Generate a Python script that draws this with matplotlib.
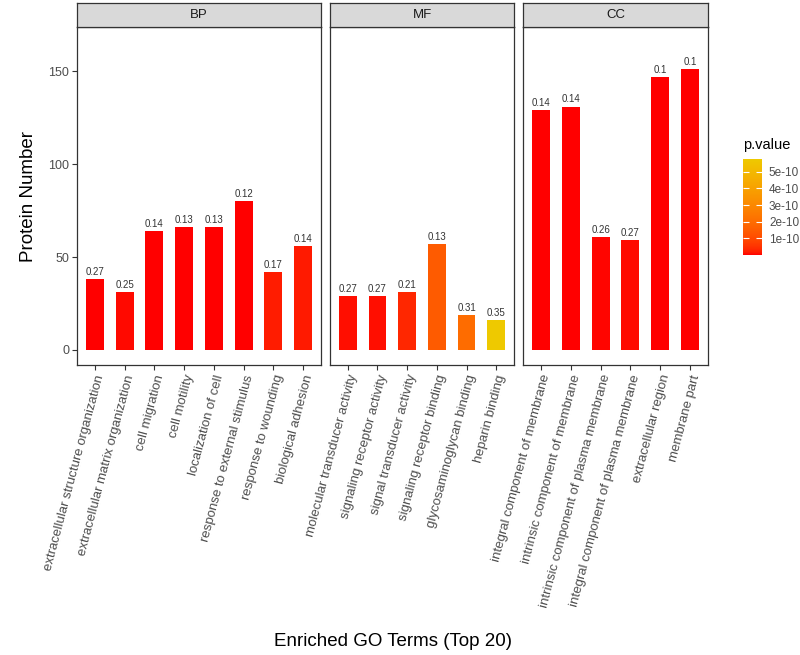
import numpy as np
import matplotlib
matplotlib.use("Agg")
import matplotlib.pyplot as plt
from matplotlib.colors import ListedColormap, Normalize
from matplotlib.cm import ScalarMappable

plt.rcParams['font.family'] = ['Liberation Sans', 'DejaVu Sans']

# ── data ────────────────────────────────────────────────────────────────────
groups = ["BP", "MF", "CC"]

bp_terms = ["extracellular structure organization", "extracellular matrix organization",
            "cell migration", "cell motility", "localization of cell",
            "response to external stimulus", "response to wounding", "biological adhesion"]
bp_counts = [38, 31, 64, 66, 66, 80, 42, 56]
bp_ratio = ["0.27", "0.25", "0.14", "0.13", "0.13", "0.12", "0.17", "0.14"]
bp_pval = [3e-13, 5e-12, 2e-15, 1e-15, 1e-15, 1e-17, 2.0e-11, 1.6e-11]

mf_terms = ["molecular transducer activity", "signaling receptor activity",
            "signal transducer activity", "signaling receptor binding",
            "glycosaminoglycan binding", "heparin binding"]
mf_counts = [29, 29, 31, 57, 19, 16]
mf_ratio = ["0.27", "0.27", "0.21", "0.13", "0.31", "0.35"]
mf_pval = [8e-12, 8e-12, 3.2e-11, 1.45e-10, 2.0e-10, 5.76e-10]

cc_terms = ["integral component of membrane", "intrinsic component of membrane",
            "intrinsic component of plasma membrane", "integral component of plasma membrane",
            "extracellular region", "membrane part"]
cc_counts = [129, 131, 61, 59, 147, 151]
cc_ratio = ["0.14", "0.14", "0.26", "0.27", "0.1", "0.1"]
cc_pval = [1e-14, 1e-14, 3e-12, 6e-12, 1e-20, 1e-20]

cbar_ticks = [1e-10, 2e-10, 3e-10, 4e-10, 5e-10]
cbar_labels = ["1e-10", "2e-10", "3e-10", "4e-10", "5e-10"]

panels = [(bp_terms, bp_counts, bp_ratio, bp_pval),
          (mf_terms, mf_counts, mf_ratio, mf_pval),
          (cc_terms, cc_counts, cc_ratio, cc_pval)]


# ── ggplot-like Lab gradient red -> gold2 ───────────────────────────────────
WHITE = np.array([0.95047, 1.0, 1.08883])
M = np.array([[0.4124, 0.3576, 0.1805], [0.2126, 0.7152, 0.0722], [0.0193, 0.1192, 0.9505]])


def to_lab(rgb):
    c = np.asarray(rgb, float)
    lin = np.where(c <= 0.04045, c / 12.92, ((c + 0.055) / 1.055) ** 2.4)
    t = (M @ lin) / WHITE
    f = np.where(t > 0.008856, np.cbrt(t), 7.787 * t + 16 / 116)
    return np.array([116 * f[1] - 16, 500 * (f[0] - f[1]), 200 * (f[1] - f[2])])


def from_lab(lab):
    fy = (lab[0] + 16) / 116
    f = np.array([fy + lab[1] / 500, fy, fy - lab[2] / 200])
    t = np.where(f ** 3 > 0.008856, f ** 3, (f - 16 / 116) / 7.787) * WHITE
    lin = np.linalg.solve(M, t)
    c = np.where(lin <= 0.0031308, 12.92 * lin, 1.055 * np.clip(lin, 0, None) ** (1 / 2.4) - 0.055)
    return np.clip(c, 0, 1)


lo, hi = to_lab([1, 0, 0]), to_lab([238 / 255, 201 / 255, 0])
cmap = ListedColormap([from_lab(lo + (hi - lo) * s) for s in np.linspace(0, 1, 256)])
all_p = bp_pval + mf_pval + cc_pval
norm = Normalize(vmin=min(all_p), vmax=max(all_p))

# ── layout (pixel-matched, 800x655) ─────────────────────────────────────────
W, H = 800, 655
fig = plt.figure(figsize=(W / 100, H / 100), dpi=100)
fig.patch.set_facecolor("white")

pan_x = [(77, 321), (330, 514), (523, 708)]
pan_top, pan_bot, strip_top = 27, 365, 3
DARK, TXT = "#333333", "#4D4D4D"

for i, ((terms, counts, ratio, pv), (x0, x1)) in enumerate(zip(panels, pan_x)):
    ax = fig.add_axes([x0 / W, 1 - pan_bot / H, (x1 - x0) / W, (pan_bot - pan_top) / H])
    xs = np.arange(len(terms))
    ax.bar(xs, counts, width=0.6, color=cmap(norm(pv)), edgecolor="none")
    for x, c, r in zip(xs, counts, ratio):
        ax.annotate(r, (x, c), xytext=(0, 1.5), textcoords="offset points",
                    ha="center", va="bottom", fontsize=7, color="#333333")
    ax.set_xlim(-0.6, len(terms) - 0.4)
    ax.set_ylim(-8.1, 173.8)
    ax.set_xticks(xs)
    ax.set_xticklabels(terms, rotation=75, ha="right", va="top",
                       rotation_mode="anchor", fontsize=9.5, color=TXT)
    ax.tick_params(axis="x", length=3.5, color=DARK, width=0.8, pad=2.5)
    if i == 0:
        ax.set_yticks([0, 50, 100, 150])
        ax.tick_params(axis="y", length=3.5, color=DARK, width=0.8, labelsize=9,
                       labelcolor=TXT, pad=2)
        ax.set_ylabel("Protein Number", fontsize=13.5, labelpad=8)
    else:
        ax.set_yticks([])
    for s in ax.spines.values():
        s.set_color(DARK); s.set_linewidth(0.9)

    sax = fig.add_axes([x0 / W, 1 - pan_top / H, (x1 - x0) / W, (pan_top - strip_top) / H])
    sax.set_facecolor("#D9D9D9")
    sax.set_xticks([]); sax.set_yticks([])
    for s in sax.spines.values():
        s.set_color(DARK); s.set_linewidth(0.9)
    sax.text(0.5, 0.5, groups[i], ha="center", va="center", fontsize=9.5,
             color="#1A1A1A", transform=sax.transAxes)

fig.text((77 + 708) / 2 / W, 1 - 641 / H, "Enriched GO Terms (Top 20)",
         ha="center", va="center", fontsize=13.5)

# ── colour bar legend ───────────────────────────────────────────────────────
cax = fig.add_axes([743 / W, 1 - 255 / H, 19 / W, 96 / H])
cb = fig.colorbar(ScalarMappable(norm=norm, cmap=cmap), cax=cax)
cb.outline.set_visible(False)
cb.set_ticks(cbar_ticks)
cb.set_ticklabels(cbar_labels)
cax.tick_params(direction="in", length=4, width=0.8, color="white", left=True, right=True,
                labelleft=False, labelright=True, labelsize=8.5, labelcolor=TXT, pad=5)
fig.text(743 / W, 1 - 145 / H, "p.value", ha="left", va="center", fontsize=10.5)

fig.savefig("out.png", dpi=100, facecolor="white")
